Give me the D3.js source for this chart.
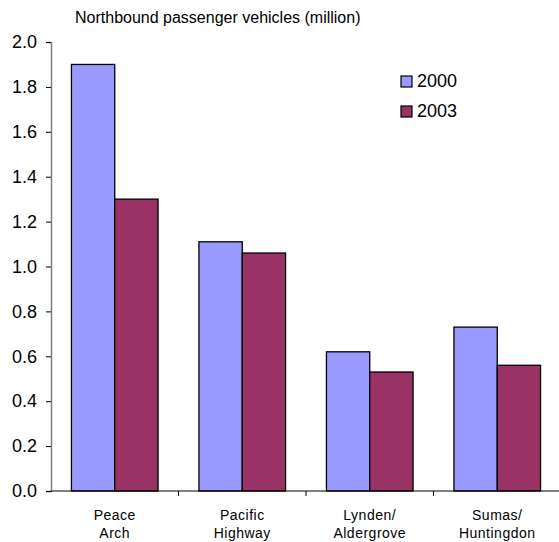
<!DOCTYPE html>
<html>
<head>
<meta charset="utf-8">
<script src="https://cdn.jsdelivr.net/npm/d3@7"></script>
<style>
  html, body { margin: 0; padding: 0; background: #fff; }
  svg { display: block; font-family: Arial, "Liberation Sans", sans-serif; }
</style>
</head>
<body>
<svg id="chart" width="559" height="542"></svg>
<script>
// Crossings and northbound passenger vehicle counts (millions)
const crossings = [["Peace", "Arch"], ["Pacific", "Highway"], ["Lynden/", "Aldergrove"], ["Sumas/", "Huntingdon"]];
const years = ["2000", "2003"];
const values2000 = [1.90, 1.11, 0.62, 0.73];
const values2003 = [1.30, 1.06, 0.53, 0.56];
const yTicks = [0, 0.2, 0.4, 0.6, 0.8, 1.0, 1.2, 1.4, 1.6, 1.8, 2.0];
const colors = ["#9999ff", "#993366"];
const title = "Northbound passenger vehicles (million)";

const svg = d3.select("#chart");
const plot = { left: 51, right: 561, top: 42, bottom: 491 };

const keys = crossings.map(c => c.join(" "));
const x = d3.scaleBand().domain(keys).range([plot.left, plot.right]).padding(0);
const inner = d3.scaleBand().domain(years).range([0, x.bandwidth()])
  .paddingInner(0).paddingOuter(0.472);
const y = d3.scaleLinear().domain([0, 2.0]).range([plot.bottom, plot.top]);

// Title
svg.append("text")
  .attr("x", 75).attr("y", 23)
  .attr("font-size", 16)
  .attr("fill", "#000")
  .text(title);

// Bars
const rows = keys.map((k, i) => ({ key: k, vals: [values2000[i], values2003[i]] }));
const groups = svg.append("g").selectAll("g").data(rows).join("g")
  .attr("transform", d => `translate(${x(d.key)},0)`);
groups.selectAll("rect")
  .data(d => d.vals.map((v, j) => ({ year: years[j], v, j })))
  .join("rect")
  .attr("x", d => inner(d.year))
  .attr("y", d => y(d.v))
  .attr("width", inner.bandwidth())
  .attr("height", d => y(0) - y(d.v))
  .attr("fill", d => colors[d.j])
  .attr("stroke", "#000")
  .attr("stroke-width", 1.3);

// Y axis
const yAxis = d3.axisLeft(y).tickValues(yTicks).tickFormat(d3.format(".1f"))
  .tickSize(5).tickPadding(9);
const gy = svg.append("g").attr("transform", `translate(${plot.left},0)`).call(yAxis);
gy.select(".domain").attr("stroke", "#808080").attr("stroke-width", 1.5);
gy.selectAll(".tick line").attr("stroke", "#000");
gy.selectAll(".tick text").attr("font-size", 18).attr("font-family", "Arial, 'Liberation Sans', sans-serif").attr("fill", "#000");

// X axis with ticks at category boundaries
const gx = svg.append("g").attr("transform", `translate(0,${plot.bottom})`);
gx.append("line")
  .attr("x1", plot.left).attr("x2", 559)
  .attr("stroke", "#000").attr("stroke-width", 1.2);
const bounds = keys.map(k => x(k)).concat([x(keys[keys.length - 1]) + x.bandwidth()]);
gx.selectAll("line.tk").data(bounds.slice(1)).join("line")
  .attr("class", "tk")
  .attr("x1", d => d).attr("x2", d => d)
  .attr("y1", 0).attr("y2", 5)
  .attr("stroke", "#000");

// Category labels (two lines)
const labels = gx.selectAll("text.cat").data(crossings).join("text")
  .attr("class", "cat")
  .attr("text-anchor", "middle")
  .attr("font-size", 14)
  .attr("letter-spacing", 0.5)
  .attr("fill", "#000")
  .attr("transform", (d, i) => `translate(${x(keys[i]) + x.bandwidth() / 2},0)`);
labels.selectAll("tspan").data(d => d).join("tspan")
  .attr("x", 0)
  .attr("y", (d, i) => 29 + i * 18)
  .text(d => d);

// Legend
const legend = svg.append("g").selectAll("g").data(years).join("g")
  .attr("transform", (d, i) => `translate(401,${76 + i * 30})`);
legend.append("rect")
  .attr("width", 11).attr("height", 11)
  .attr("fill", (d, i) => colors[i])
  .attr("stroke", "#000").attr("stroke-width", 1.2);
legend.append("text")
  .attr("x", 16).attr("y", 11)
  .attr("font-size", 18)
  .attr("fill", "#000")
  .text(d => d);
</script>
</body>
</html>
